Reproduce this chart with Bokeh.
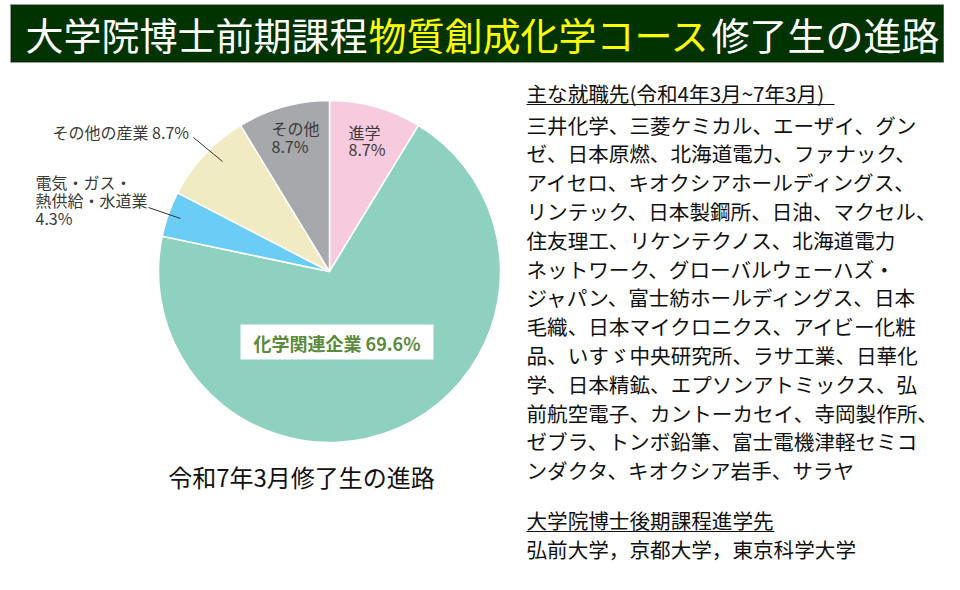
import math
from bokeh.plotting import figure
from bokeh.models import Range1d
from bokeh.core.properties import value
from bokeh.embed import file_html
from bokeh.resources import INLINE

# ---- data ----
categories = ["進学", "化学関連企業", "電気・ガス・熱供給・水道業", "その他の産業", "その他"]
shares = [8.7, 69.6, 4.3, 8.7, 8.7]
colors = ["#F8CADD", "#8FD1C0", "#6BCDF5", "#F0EBC3", "#A7A8AC"]

title_white1 = "大学院博士前期課程"
title_yellow = "物質創成化学コース"
title_white2 = "修了生の進路"
caption = "令和7年3月修了生の進路"

jobs_header = "主な就職先(令和4年3月~7年3月)"
jobs_lines = [
    "三井化学、三菱ケミカル、エーザイ、グン",
    "ゼ、日本原燃、北海道電力、ファナック、",
    "アイセロ、キオクシアホールディングス、",
    "リンテック、日本製鋼所、日油、マクセル、",
    "住友理工、リケンテクノス、北海道電力",
    "ネットワーク、グローバルウェーハズ・",
    "ジャパン、富士紡ホールディングス、日本",
    "毛織、日本マイクロニクス、アイビー化粧",
    "品、いすゞ中央研究所、ラサ工業、日華化",
    "学、日本精鉱、エプソンアトミックス、弘",
    "前航空電子、カントーカセイ、寺岡製作所、",
    "ゼブラ、トンボ鉛筆、富士電機津軽セミコ",
    "ンダクタ、キオクシア岩手、サラヤ",
]
phd_header = "大学院博士後期課程進学先"
phd_line = "弘前大学，京都大学，東京科学大学"

FONT = value("Noto Sans CJK JP")
H = 590


def Y(s):
    return H - s


p = figure(width=944, height=574, x_range=Range1d(0, 944), y_range=Range1d(16, 590),
           output_backend="svg", toolbar_location=None, min_border=0)
p.axis.visible = False
p.grid.visible = False
p.outline_line_color = None
p.background_fill_color = "white"

# ---- title banner ----
p.quad(left=10, right=943.5, bottom=Y(62), top=Y(4), fill_color="#003300",
       line_color="#9a9a9a", line_width=1)
TS = "38px"
p.text(x=[25], y=[Y(33)], text=[title_white1], text_font=FONT, text_font_size=TS,
       text_color="white", text_baseline="middle", text_align="left")
p.text(x=[368], y=[Y(33)], text=[title_yellow], text_font=FONT, text_font_size=TS,
       text_color="#FFFF00", text_baseline="middle", text_align="left")
p.text(x=[711], y=[Y(33)], text=[title_white2], text_font=FONT, text_font_size=TS,
       text_color="white", text_baseline="middle", text_align="left")

# ---- pie ----
cx, cy, r = 329, Y(271), 171
total = sum(shares)
starts, ends = [], []
acc = 0.0
for s in shares:
    starts.append(math.pi / 2 - 2 * math.pi * acc / total)
    acc += s
    ends.append(math.pi / 2 - 2 * math.pi * acc / total)
p.wedge(x=[cx] * len(shares), y=[cy] * len(shares), radius=r,
        start_angle=starts, end_angle=ends, direction="clock",
        fill_color=colors, line_color="white", line_width=1.5)

lab_col = "#3a3a3a"
def lab(x, y, t, size="16px", align="left"):
    p.text(x=[x], y=[Y(y)], text=[t], text_font=FONT, text_font_size=size,
           text_color=lab_col, text_baseline="middle", text_align=align)

lab(348, 131, categories[0])
lab(348, 148, f"{shares[0]}%")
lab(271, 127, categories[4])
lab(271, 145, f"{shares[4]}%")
lab(52, 131, f"{categories[3]} {shares[3]}%")
lab(35, 181, "電気・ガス・")
lab(35, 199, "熱供給・水道業")
lab(35, 217, f"{shares[2]}%")
p.segment(x0=[193, 148], y0=[Y(137), Y(207)], x1=[222, 180], y1=[Y(161), Y(218)],
          line_color="#333333", line_width=1)

# main slice label box
p.quad(left=240, right=433, bottom=Y(359), top=Y(324), fill_color="white", line_color=None)
p.text(x=[336.5], y=[Y(342)], text=[f"{categories[1]} {shares[1]}%"], text_font=FONT,
       text_font_size="18px", text_font_style="bold", text_color="#5B8A3C",
       text_baseline="middle", text_align="center")

# caption
p.text(x=[301], y=[Y(476)], text=[caption], text_font=FONT, text_font_size="24px",
       text_color="#111111", text_baseline="middle", text_align="center")

# ---- right text ----
tx = 526
FS = "20.6px"
p.text(x=[tx], y=[Y(92)], text=[jobs_header], text_font=FONT, text_font_size=FS,
       text_color="#111111", text_baseline="middle", text_align="left")
p.segment(x0=[tx], y0=[Y(104)], x1=[834], y1=[Y(104)], line_color="#111111", line_width=1.2)
ys = [Y(124 + 28.8 * i) for i in range(len(jobs_lines))]
p.text(x=[tx] * len(jobs_lines), y=ys, text=jobs_lines, text_font=FONT, text_font_size=FS,
       text_color="#111111", text_baseline="middle", text_align="left")
p.text(x=[tx], y=[Y(519)], text=[phd_header], text_font=FONT, text_font_size=FS,
       text_color="#111111", text_baseline="middle", text_align="left")
p.segment(x0=[tx], y0=[Y(531)], x1=[774], y1=[Y(531)], line_color="#111111", line_width=1.2)
p.text(x=[tx], y=[Y(548)], text=[phd_line], text_font=FONT, text_font_size=FS,
       text_color="#111111", text_baseline="middle", text_align="left")

open("out.html", "w").write(file_html(p, INLINE))
